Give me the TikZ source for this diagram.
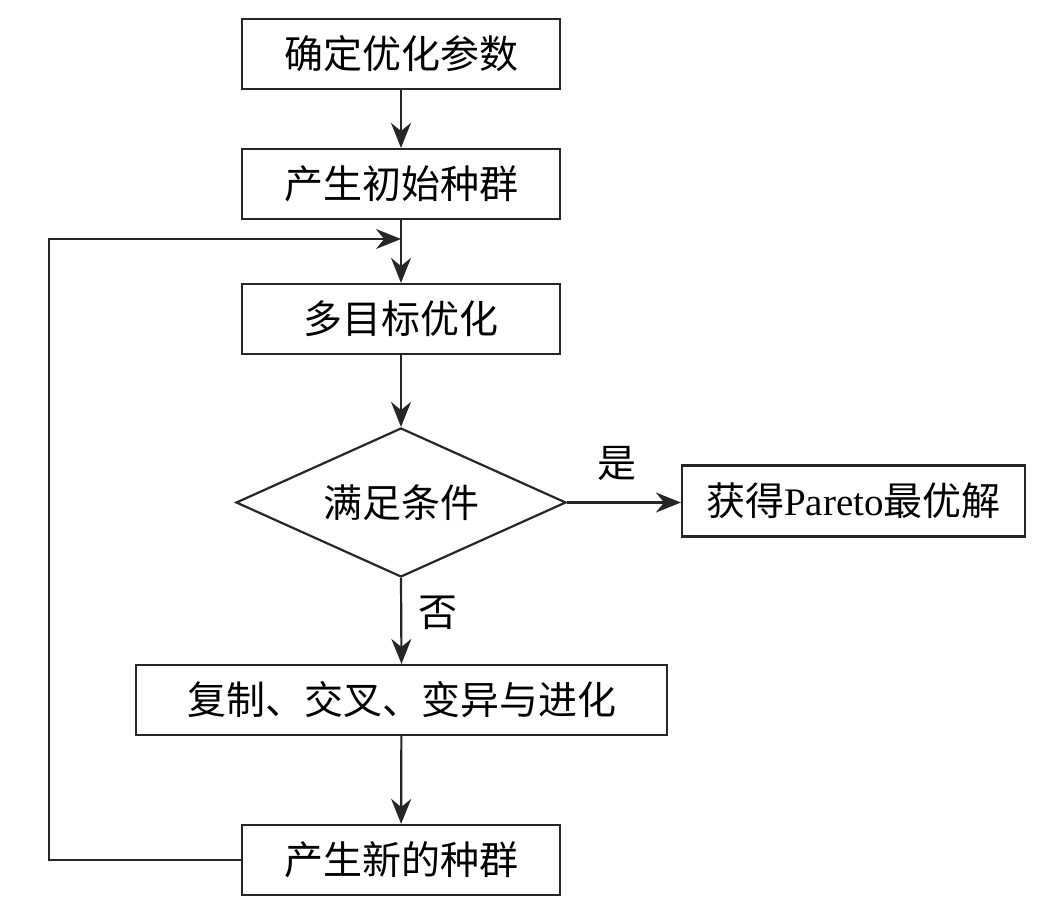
\documentclass[tikz,border=0pt]{standalone}
\usepackage{fontspec}
\setmainfont{Liberation Serif}
\newfontfamily\cjk{Noto Sans CJK SC}
\usetikzlibrary{arrows.meta,positioning,shapes.geometric}
\tikzset{
  stepbox/.style={draw=black!85, line width=1.1pt, align=center, inner sep=0pt, minimum width=159pt, minimum height=35pt, font=\cjk\fontsize{19.5}{23}\selectfont},
  widebox/.style={stepbox, minimum width=265.5pt},
  endbox/.style={stepbox, minimum width=171.5pt, minimum height=35.5pt},
  decision/.style={diamond, draw=black!85, line width=1.1pt, inner sep=0pt, aspect=2.2, minimum width=165pt, minimum height=74.5pt, font=\cjk\fontsize{19.5}{23}\selectfont},
  arrow/.style={-{Stealth[length=12.5pt,width=10pt]}, line width=1.1pt, draw=black!85},
  lbl/.style={inner sep=0pt, font=\cjk\fontsize{19.5}{23}\selectfont}
}
\begin{document}
\begin{tikzpicture}[x=0.5pt,y=-0.5pt]
\useasboundingbox (0,0) rectangle (1049,919);
\node[stepbox] (param) at (401,54) {确定优化参数};
\node[stepbox] (init) at (401,184) {产生初始种群};
\node[stepbox] (moo) at (401,319) {多目标优化};
\node[decision] (cond) at (401,502.5) {满足条件};
\node[endbox] (pareto) at (853.5,501) {获得{\rmfamily Pareto}最优解};
\node[widebox] (evolve) at (401.5,700) {复制、交叉、变异与进化};
\node[stepbox] (newpop) at (401,860) {产生新的种群};
\coordinate (merge) at (401,239);
\coordinate (corner) at (49,239);

\draw[arrow] (param) -- (init);
\draw[arrow] (init) -- (moo);
\draw[arrow] (moo) -- (cond);
\draw[arrow] (cond.east) -- node[lbl, above=10.5pt, xshift=-3.5pt] {是} (cond.east -| pareto.west);
\draw[arrow] (cond.south) -- node[lbl, right=8pt, yshift=4pt] {否} (evolve.north);
\draw[arrow] (evolve) -- (newpop);
\draw[arrow] (newpop.west) -| (corner) -- (merge);
\end{tikzpicture}
\end{document}
